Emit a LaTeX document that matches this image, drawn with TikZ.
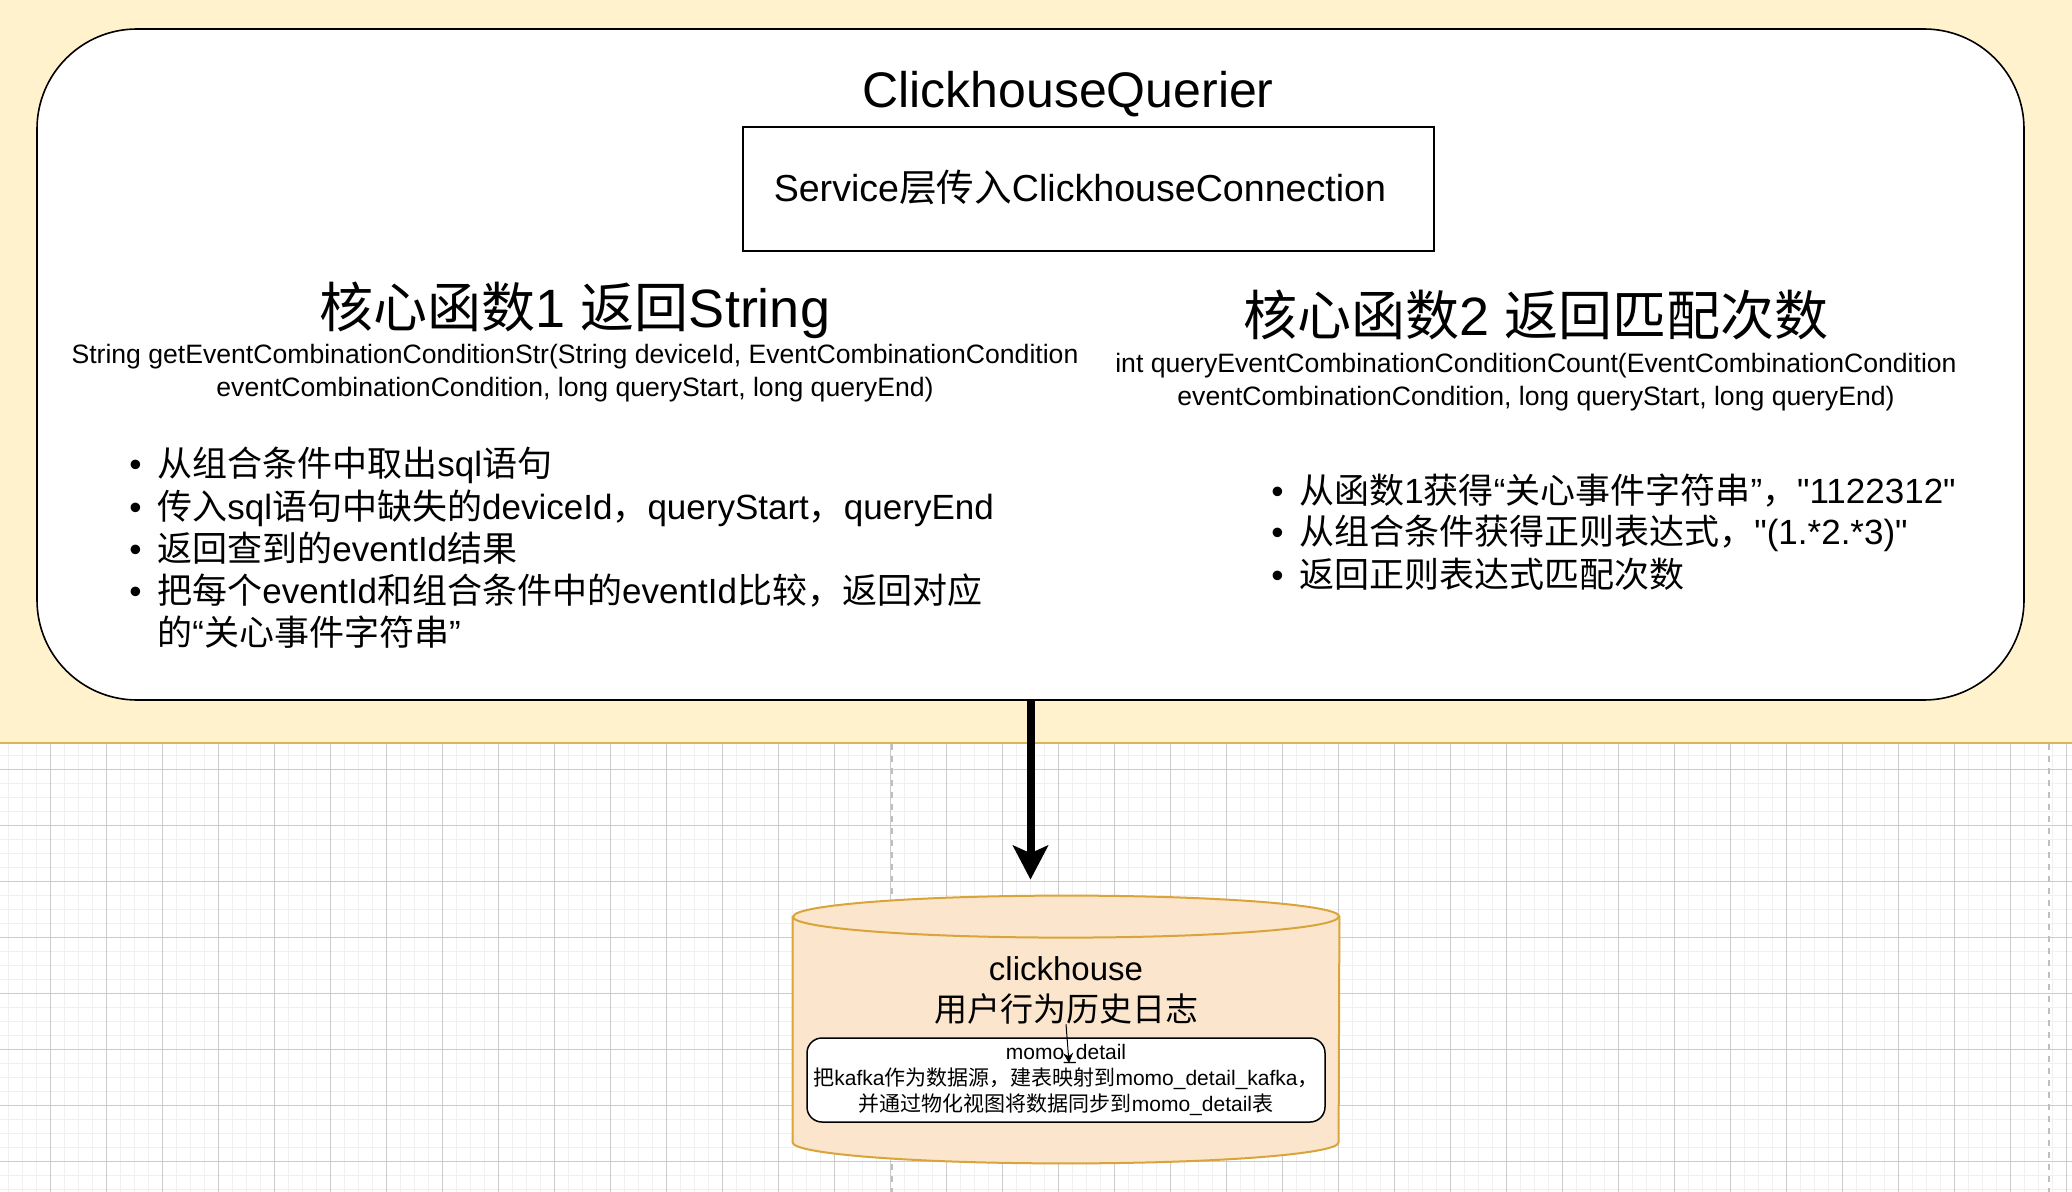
\documentclass[tikz,border=0pt]{standalone}
\usepackage{fontspec}
\defaultfontfeatures[\rmfamily]{}
\setmainfont{Liberation Sans}
\newfontfamily\cjkfont{Noto Sans CJK SC}
\usetikzlibrary{arrows.meta}

% switch to the CJK font for ideographs
\XeTeXinterchartokenstate=1
\newXeTeXintercharclass\cjkclass
\count255="4E00
\loop
  \XeTeXcharclass\count255=\cjkclass
  \ifnum\count255<"9FFF \advance\count255 by 1 \repeat
\XeTeXcharclass"FF0C=\cjkclass
\XeTeXcharclass"201C=0
\XeTeXcharclass"201D=0
\XeTeXcharclass"2022=0
\XeTeXinterchartoks 0 \cjkclass = {\cjkfont}
\XeTeXinterchartoks 4095 \cjkclass = {\cjkfont}
\XeTeXinterchartoks \cjkclass 0 = {\rmfamily}
\XeTeXinterchartoks \cjkclass 4095 = {\rmfamily}

\definecolor{bandfill}{HTML}{FFF2CC}
\definecolor{bandline}{HTML}{D6B656}
\definecolor{dbfill}{HTML}{FBE5CD}
\definecolor{dbline}{HTML}{D9A43A}

\tikzset{
  minorgrid/.style={line width=0.5pt, black!6},
  majorgrid/.style={line width=0.5pt, black!20},
  pagebreak/.style={line width=1pt, black!25, dash pattern=on 3pt off 3pt},
  container/.style={draw, line width=0.8pt, fill=white, rounded corners=50pt,
    minimum width=993.5pt, minimum height=335.5pt, inner sep=0pt},
  titletext/.style={inner sep=0pt, font=\fontsize{25pt}{30pt}\selectfont},
  servicebox/.style={draw, line width=0.75pt, minimum width=345.5pt,
    minimum height=62pt, font=\fontsize{18.8pt}{22pt}\selectfont},
  heading/.style={inner sep=0pt, font=\fontsize{27pt}{32pt}\selectfont},
  signature/.style={inner sep=0pt, align=center, font=\fontsize{13.3pt}{16.5pt}\selectfont},
  item/.style={anchor=base west, inner sep=0pt, font=\fontsize{17.5pt}{21pt}\selectfont},
  dbbody/.style={inner sep=0pt, minimum width=273pt, minimum height=112.5pt},
  dbshape/.style={fill=dbfill, draw=dbline, line width=1pt},
  dblabel/.style={inner sep=0pt, align=center, font=\fontsize{16.5pt}{20.5pt}\selectfont},
  detailbox/.style={draw, line width=0.75pt, fill=white, rounded corners=7.5pt,
    minimum width=259pt, minimum height=42pt, inner sep=0pt, align=center,
    font=\fontsize{10.5pt}{12.8pt}\selectfont},
  flow/.style={line width=4pt, -{Stealth[length=17pt,width=17.5pt,inset=3.8pt]}, shorten >=18.5pt},
  feed/.style={line width=0.5pt, ->}
}

\begin{document}
\begin{tikzpicture}[x=0.5pt, y=-0.5pt, >={Stealth[length=5pt,width=5pt]}]
\useasboundingbox (0,0) rectangle (2072,1192);

% background
\fill[bandfill] (0,0) rectangle (2072,743);
\foreach \x in {8.3,22.3,...,2072}
  \draw[minorgrid] (\x,744) -- (\x,1192);
\foreach \y in {755.3,769.3,...,1192}
  \draw[minorgrid] (0,\y) -- (2072,\y);
\foreach \x in {50.3,106.3,...,2072}
  \draw[majorgrid] (\x,744) -- (\x,1192);
\foreach \y in {769.3,825.3,...,1192}
  \draw[majorgrid] (0,\y) -- (2072,\y);
\foreach \x in {892,2049}
  \draw[pagebreak] (\x,744) -- (\x,1192);
\draw[bandline, line width=1pt] (0,743) -- (2072,743);

% querier
\node[container] (querier) at (1030.5,364.5) {};
\node[titletext, anchor=base] (title) at (1068,108) {ClickhouseQuerier};
\node[servicebox] (service) at (1088.5,189)
  {\raisebox{3.3pt}{Service层传入ClickhouseConnection}\kern8.6pt};

\node[heading, anchor=base] (func1) at (575,328) {核心函数1 返回String};
\node[heading, anchor=base] (func2) at (1536,336) {核心函数2 返回匹配次数};

\node[signature] (sig1) at (575,373.5)
  {String getEventCombinationConditionStr(String deviceId, EventCombinationCondition\\
   eventCombinationCondition, long queryStart, long queryEnd)};
\node[signature] (sig2) at (1536,382.5)
  {int queryEventCombinationConditionCount(EventCombinationCondition\\
   eventCombinationCondition, long queryStart, long queryEnd)};

\foreach \t [count=\i] in {从组合条件中取出sql语句,
    传入sql语句中缺失的deviceId，queryStart，queryEnd,
    返回查到的eventId结果,
    把每个eventId和组合条件中的eventId比较，返回对应}
  \node[item] (step1-\i) at (129,435+\i*42) {\makebox[14pt][l]{\textbullet}\t};
\node[item] (step1-more) at (157,645) {的“关心事件字符串”};

\foreach \t [count=\i] in {{从函数1获得“关心事件字符串”，"1122312"},
    {从组合条件获得正则表达式，"(1.*2.*3)"},
    返回正则表达式匹配次数}
  \node[item] (step2-\i) at (1271,461+\i*42) {\makebox[14pt][l]{\textbullet}\t};

% clickhouse
\node[dbbody] (db) at (1066,1029.5) {};
\filldraw[dbshape] (db.north west) -- (db.south west)
  arc[start angle=180, end angle=360, x radius=136.5pt, y radius=10.5pt]
  -- (db.north east)
  arc[start angle=0, end angle=180, x radius=136.5pt, y radius=10.5pt] -- cycle;
\draw[dbshape, fill=none] (db.north west)
  arc[start angle=180, end angle=360, x radius=136.5pt, y radius=10.5pt];

\node[dblabel] (dbtitle) at (1066,990) {clickhouse\\用户行为历史日志};
\node[detailbox] (detail) at (1066,1080)
  {momo\_detail\\
   把kafka作为数据源，建表映射到momo\_detail\_kafka，\\
   并通过物化视图将数据同步到momo\_detail表};

\coordinate (feedend) at (1069,1063);
\draw[feed] (dbtitle.south) -- (feedend);

\draw[flow] (querier.south) -- (querier.south |- db.north);

\end{tikzpicture}
\end{document}
